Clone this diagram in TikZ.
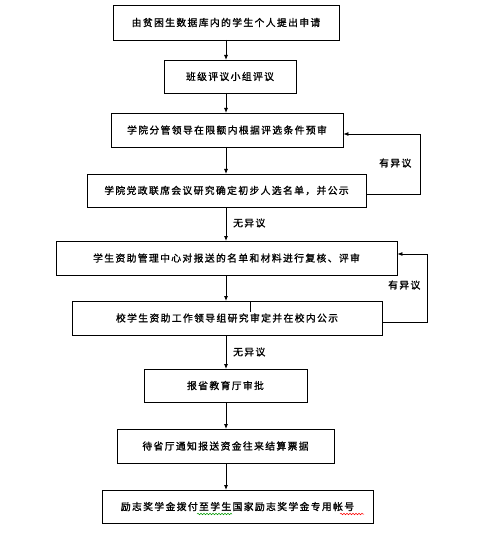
\documentclass[tikz,border=0pt]{standalone}
\usepackage{fontspec}
\newfontfamily\cjk[LetterSpace=14,FakeBold=1.2]{Noto Sans CJK SC}
\usetikzlibrary{arrows.meta,decorations.pathmorphing}
\begin{document}
\begin{tikzpicture}[x=1pt,y=-1pt,
  box/.style={draw=black,line width=0.8pt,inner sep=0pt,font=\cjk\fontsize{9.8}{11}\selectfont},
  arr/.style={draw=black,line width=0.8pt,-{Latex[length=5pt,width=4pt]}},
  lbl/.style={font=\cjk\fontsize{9.8}{11}\selectfont,inner sep=0pt}]
\useasboundingbox (0,0) rectangle (502,545);
\node[box,minimum width=226,minimum height=35] (b1) at (226,22.5) {由贫困生数据库内的学生个人提出申请};
\node[box,minimum width=132,minimum height=33] (b2) at (230,76.5) {班级评议小组评议};
\node[box,minimum width=232,minimum height=34] (b3) at (227,130) {学院分管领导在限额内根据评选条件预审};
\node[box,minimum width=279,minimum height=33] (b4) at (226.5,190.5) {学院党政联席会议研究确定初步人选名单，并公示};
\node[box,minimum width=341,minimum height=34] (b5) at (226.5,258) {学生资助管理中心对报送的名单和材料进行复核、评审};
\node[box,minimum width=310,minimum height=34] (b6) at (227,318) {校学生资助工作领导组研究审定并在校内公示};
\node[box,minimum width=163,minimum height=33] (b7) at (225.5,385.5) {报省教育厅审批};
\node[box,minimum width=217,minimum height=34] (b8) at (225.5,446) {待省厅通知报送资金往来结算票据};
\node[box,minimum width=271,minimum height=33] (b9) at (237.5,506.5) {励志奖学金拨付至学生国家励志奖学金专用帐号};

\draw[arr] (226,40) -- (226,60);
\draw[arr] (226,93) -- (226,113);
\draw[arr] (226,147) -- (226,174);
\draw[arr] (226,207) -- (226,241);
\draw[arr] (226,275) -- (226,301);
\draw[arr] (226,335) -- (226,369);
\draw[arr] (226,402) -- (226,429);
\draw[arr] (226,463) -- (226,490);

\coordinate (f1a) at (420,194);
\coordinate (f1b) at (420,134);
\draw[arr] (b4.east |- f1a) -- (f1a) -- (f1b) -- (b3.east |- f1b);
\coordinate (f2a) at (427,322);
\coordinate (f2b) at (427,254);
\draw[arr] (b6.east |- f2a) -- (f2a) -- (f2b) -- (b5.east |- f2b);

\node[lbl,anchor=west] (l1) at (379,163) {有异议};
\node[lbl,anchor=west] (l2) at (388,285) {有异议};
\node[lbl,anchor=west] (l3) at (233,223) {无异议};
\node[lbl,anchor=west] (l4) at (233,352) {无异议};

\draw[line width=1.6pt] (250.5,301) -- (250.5,312);
\draw[green!60!black,line width=0.5pt,decorate,decoration={snake,amplitude=0.8pt,segment length=3pt}] (197,514) -- (232,514);
\draw[red,line width=0.5pt,decorate,decoration={snake,amplitude=0.8pt,segment length=3pt}] (340,514) -- (364,514);
\end{tikzpicture}
\end{document}
